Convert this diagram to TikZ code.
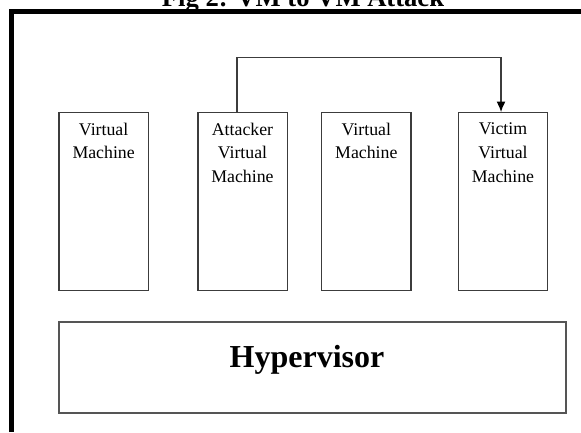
\documentclass[tikz,border=0pt]{standalone}
\usepackage{fontspec}
\setmainfont{Liberation Serif}
\usetikzlibrary{arrows.meta,calc}
\definecolor{boxgray}{HTML}{3C3C3C}
\definecolor{hypgray}{HTML}{555555}
\begin{document}
\begin{tikzpicture}[x=1pt,y=-1pt,
  vmbox/.style={draw=boxgray,line width=1.3pt,minimum width=89.3pt,minimum height=177.8pt,inner sep=0pt},
  vmtext/.style={anchor=north,align=center,inner sep=0pt,font=\fontsize{17.8}{23.8}\selectfont},
  hypbox/.style={draw=hypgray,line width=1.8pt,minimum width=506.7pt,minimum height=91pt,inner sep=0pt},
  conn/.style={draw=boxgray,line width=1.3pt,-{Latex[length=10.5pt,width=9pt,color=black]}},
  frame/.style={line width=5pt,line join=miter}]
\useasboundingbox (0,0) rectangle (581,432);
% title
\node[anchor=base,inner sep=0pt,font=\bfseries\fontsize{26.6}{30}\selectfont] (title) at (303,6.5) {Fig 2: VM to VM Attack};
% frame
\draw[frame] (11.5,432) -- (11.5,11.7) -- (581,11.7);
% virtual machines
\node[vmbox] (b1) at (103.65,201.6) {};
\node[vmbox] (b2) at (242.5,201.6) {};
\node[vmbox] (b3) at (366.35,201.6) {};
\node[vmbox] (b4) at (503,201.6) {};
\node[vmtext] (t1) at (103.65,122.6) {Virtual\\Machine};
\node[vmtext] (t2) at (242.5,122.6) {Attacker\\Virtual\\Machine};
\node[vmtext] (t3) at (366.35,122.6) {Virtual\\Machine};
\node[vmtext] (t4) at (503,122.6) {Victim\\Virtual\\Machine};
% hypervisor
\node[hypbox] (hyp) at (312.35,367.8) {};
\node[anchor=base,inner sep=0pt,font=\bfseries\fontsize{32}{36}\selectfont] (hyptext) at (307,367) {Hypervisor};
% attack arrow
\coordinate (top) at (369,57.5);
\draw[conn] ([xshift=-5.5pt]b2.north) |- (top) -| ([xshift=-2pt]b4.north);
\end{tikzpicture}
\end{document}
